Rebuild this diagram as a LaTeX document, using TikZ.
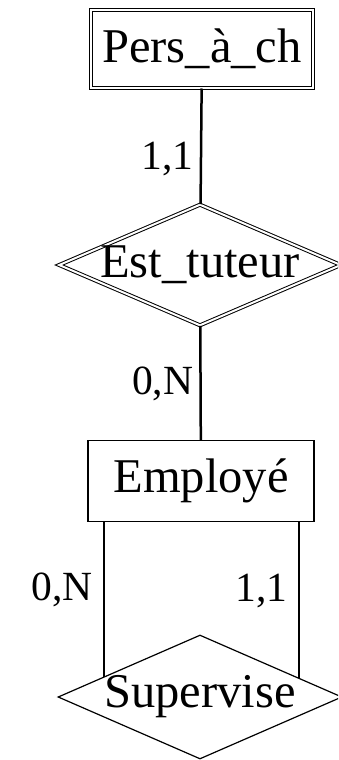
\documentclass[tikz,border=0pt]{standalone}
\usepackage{fontspec}
\setmainfont{Liberation Serif}
\usetikzlibrary{shapes.geometric}
\tikzset{
	entite/.style={rectangle,draw,line width=1.2pt,inner sep=0pt,minimum width=226pt,minimum height=81pt,font=\fontsize{48.5}{52}\selectfont},
	faible/.style={double,line width=1pt,double distance=2pt},
	assoc/.style={diamond,draw,line width=1.2pt,shape aspect=2.3,inner xsep=-40pt,inner ysep=-10pt,minimum width=282pt,minimum height=124pt,font=\fontsize{48.5}{52}\selectfont},
	lien/.style={line width=2.5pt},
	card/.style={inner sep=0pt,font=\fontsize{41.5}{44}\selectfont}
}
\begin{document}
\begin{tikzpicture}[x=1pt,y=-1pt]
		\clip (0,0) rectangle (338,760);
		\node [entite,faible,minimum width=222pt,minimum height=78pt] (pers) at (202,49) {Pers\_à\_ch};
		\node [assoc,faible,minimum width=282pt,minimum height=121pt] (tuteur) at (200,265) {Est\_tuteur};
		\node [entite] (emp) at (201,481) {Employé};
		\node [assoc,minimum width=284pt] (sup) at (200,697) {Supervise};
		\draw [lien] (pers) -- node [card,left=6pt,pos=.61] (c1) {1,1} (tuteur);
		\draw [lien] (tuteur) -- node [card,left=6pt,pos=.51] (c2) {0,N} (emp);
		\draw [lien] (emp.south -| sup.168) -- node [card,left=10pt,pos=.44] (c3) {0,N} (sup.168);
		\draw [lien] (emp.south -| sup.11) -- node [card,left=10pt,pos=.44] (c4) {1,1} (sup.11);
	\end{tikzpicture}
\end{document}
